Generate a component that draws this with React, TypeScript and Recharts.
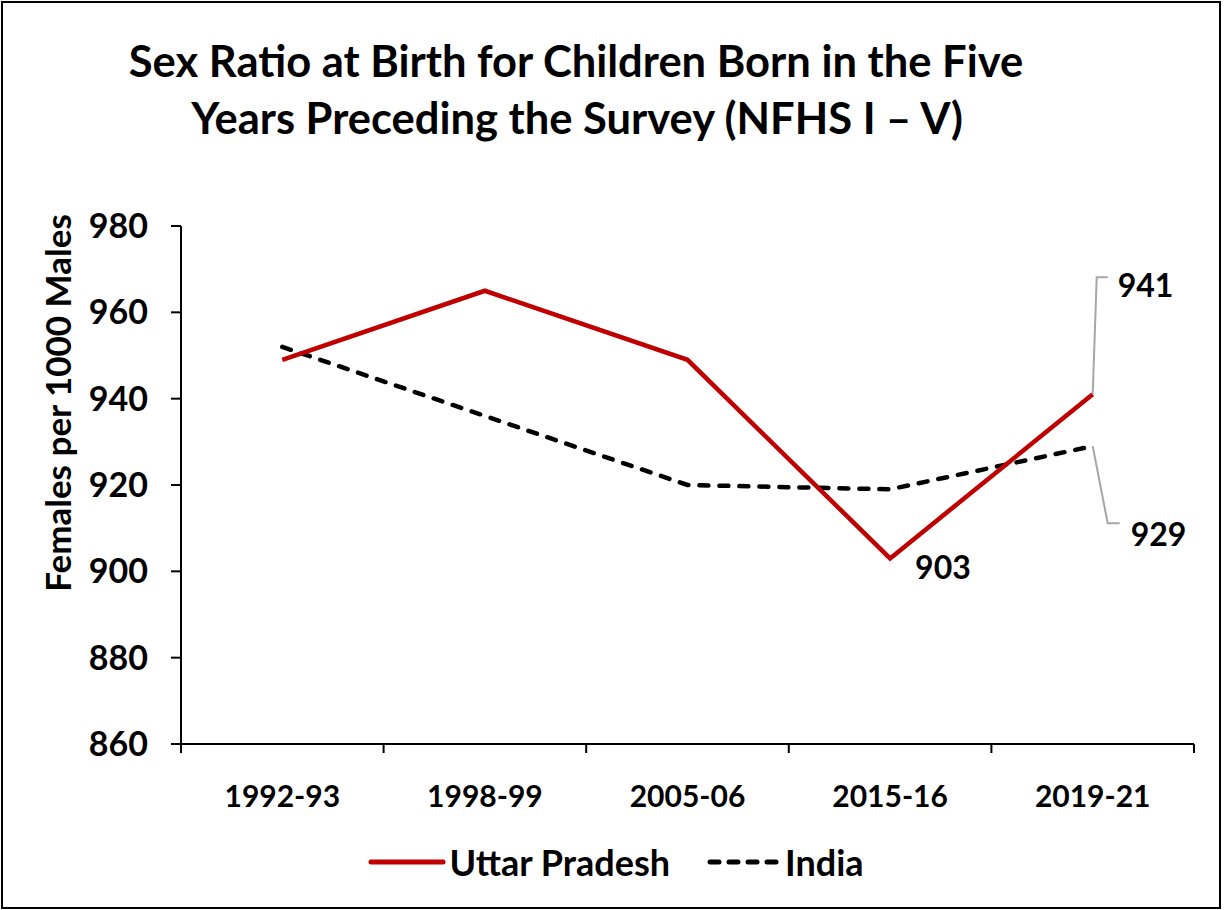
import React from 'react';
import { LineChart, Line, XAxis, YAxis, Legend, LabelList } from 'recharts';

const FONT = 'Lato, "Open Sans", sans-serif';

const categories = ['1992-93', '1998-99', '2005-06', '2015-16', '2019-21'];
const uttarPradesh = [949, 965, 949, 903, 941];
const india = [952, 936, 920, 919, 929];
const yTicks = [860, 880, 900, 920, 940, 960, 980];
const titleLines = ['Sex Ratio at Birth for Children Born in the Five', 'Years Preceding the Survey (NFHS I \u2013 V)'];
const yAxisTitle = 'Females per 1000 Males';
const seriesNames = { up: 'Uttar Pradesh', india: 'India' };

const data = categories.map((c, i) => ({ period: c, up: uttarPradesh[i], india: india[i] }));

const RED = '#c00000';
const LEADER = '#a6a6a6';

const CHART_W = 1224;
const CHART_H = 910;
const MARGIN = { top: 226, right: 30, left: 121, bottom: 28 };
const Y_AXIS_W = 60;
const PLOT_W = CHART_W - MARGIN.left - MARGIN.right - Y_AXIS_W;
const HALF_STEP = PLOT_W / categories.length / 2;
const X_TICK_MARGIN = 42;
const X_TICK_LEN = 9;

const getXY = (p: any) => ({
  x: p.viewBox && p.viewBox.x != null ? p.viewBox.x : p.x,
  y: p.viewBox && p.viewBox.y != null ? p.viewBox.y : p.y,
});

const labelStyle = { fontFamily: FONT, fontWeight: 700, fontSize: 32, fill: '#000' } as const;

const UpLabel = (props: any) => {
  const { index, value } = props;
  const { x, y } = getXY(props);
  if (x == null || y == null) return null;
  if (index === 3) {
    return (
      <text x={x + 25} y={y + 8} dominantBaseline="central" {...labelStyle}>{value}</text>
    );
  }
  if (index === 4) {
    return (
      <g>
        <path d={`M${x},${y} L${x + 4},${y - 117} L${x + 15},${y - 117}`} fill="none" stroke={LEADER} strokeWidth={2} />
        <text x={x + 25} y={y - 110} dominantBaseline="central" {...labelStyle}>{value}</text>
      </g>
    );
  }
  return null;
};

const IndiaLabel = (props: any) => {
  const { index, value } = props;
  const { x, y } = getXY(props);
  if (x == null || y == null) return null;
  if (index === 4) {
    return (
      <g>
        <path d={`M${x},${y} L${x + 15},${y + 77} L${x + 27},${y + 77}`} fill="none" stroke={LEADER} strokeWidth={2} />
        <text x={x + 38} y={y + 87} dominantBaseline="central" {...labelStyle}>{value}</text>
      </g>
    );
  }
  return null;
};

const XTick = (props: any) => {
  const { x, y, payload, index, visibleTicksCount } = props;
  const axisY = y - X_TICK_MARGIN;
  const last = index === (visibleTicksCount ?? categories.length) - 1;
  return (
    <g>
      <line x1={x - HALF_STEP} y1={axisY} x2={x - HALF_STEP} y2={axisY + X_TICK_LEN} stroke="#000" strokeWidth={2} />
      {last && <line x1={x + HALF_STEP} y1={axisY} x2={x + HALF_STEP} y2={axisY + X_TICK_LEN} stroke="#000" strokeWidth={2} />}
      <text x={x} y={y} dy="0.71em" textAnchor="middle" fontFamily={FONT} fontWeight={700} fontSize={30} fill="#000">{payload.value}</text>
    </g>
  );
};

const renderLegend = () => (
  <div style={{ height: 40, display: 'flex', justifyContent: 'center', alignItems: 'center', paddingLeft: 8, fontFamily: FONT, fontWeight: 700, fontSize: 36, color: '#000' }}>
    <svg width={78} height={12} style={{ marginRight: 3 }}>
      <line x1={3} y1={6} x2={75} y2={6} stroke={RED} strokeWidth={5} strokeLinecap="round" />
    </svg>
    <span>{seriesNames.up}</span>
    <svg width={78} height={12} style={{ marginLeft: 37, marginRight: 0 }}>
      <line x1={3} y1={6} x2={75} y2={6} stroke="#000" strokeWidth={5} strokeLinecap="round" strokeDasharray="9 10" />
    </svg>
    <span>{seriesNames.india}</span>
  </div>
);

export default function App() {
  return (
    <div style={{ position: 'absolute', left: 0, top: 0, width: CHART_W, height: CHART_H, background: '#fff' }}>
      <div style={{ position: 'absolute', left: 1, top: 1, width: 1220, height: 908, border: '2px solid #000', boxSizing: 'border-box' }} />
      <LineChart width={CHART_W} height={CHART_H} data={data} margin={MARGIN}>
        <XAxis
          dataKey="period"
          padding={{ left: HALF_STEP, right: HALF_STEP }}
          axisLine={{ stroke: '#000', strokeWidth: 2 }}
          tickLine={false}
          height={98}
          interval={0}
          tickSize={0}
          tickMargin={X_TICK_MARGIN}
          tick={<XTick />}
        />
        <YAxis
          domain={[860, 980]}
          ticks={yTicks}
          width={Y_AXIS_W}
          interval={0}
          tickSize={10}
          tickMargin={23}
          axisLine={{ stroke: '#000', strokeWidth: 2 }}
          tickLine={{ stroke: '#000', strokeWidth: 2 }}
          tick={{ fontSize: 34, fontWeight: 700, fill: '#000', fontFamily: FONT }}
        />
        <Legend verticalAlign="bottom" content={renderLegend} wrapperStyle={{ left: 0, width: CHART_W }} />
        <Line
          type="linear"
          dataKey="india"
          name={seriesNames.india}
          stroke="#000"
          strokeWidth={4.5}
          strokeDasharray="9 11"
          strokeLinecap="round"
          dot={false}
          activeDot={false}
          isAnimationActive={false}
        >
          <LabelList dataKey="india" content={IndiaLabel} />
        </Line>
        <Line
          type="linear"
          dataKey="up"
          name={seriesNames.up}
          stroke={RED}
          strokeWidth={4.5}
          dot={false}
          activeDot={false}
          isAnimationActive={false}
        >
          <LabelList dataKey="up" content={UpLabel} />
        </Line>
      </LineChart>
      <svg width={CHART_W} height={CHART_H} style={{ position: 'absolute', left: 0, top: 0, pointerEvents: 'none' }}>
        <text x={576} y={77} textAnchor="middle" fontFamily={FONT} fontWeight={700} fontSize={43.5} fill="#000">{titleLines[0]}</text>
        <text x={577} y={134} textAnchor="middle" fontFamily={FONT} fontWeight={700} fontSize={43.5} fill="#000">{titleLines[1]}</text>
        <text x={57} y={403} transform="rotate(-90 57 403)" textAnchor="middle" dominantBaseline="central" fontFamily={FONT} fontWeight={700} fontSize={35} fill="#000">{yAxisTitle}</text>
      </svg>
    </div>
  );
}
